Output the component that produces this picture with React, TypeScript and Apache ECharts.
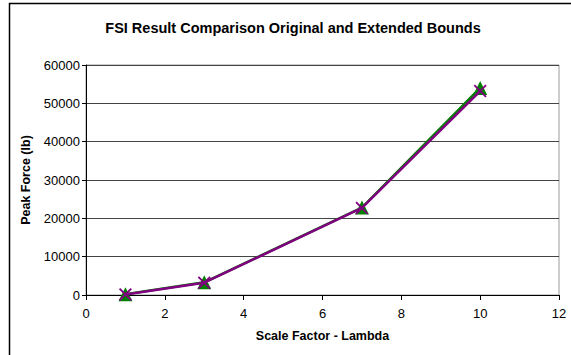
import React, { useEffect, useRef } from "react";
import * as echarts from "echarts";

// Scale factor (lambda) and peak force (lb) for both bound sets
const lambdaValues = [1, 3, 7, 10];
const originalBounds = [200, 3300, 22800, 54000];
const extendedBounds = [150, 3200, 22700, 53200];

const xTicks = { min: 0, max: 12, interval: 2 };
const yTicks = { min: 0, max: 60000, interval: 10000 };

const FONT = "'Liberation Sans', Arial, sans-serif";

// thin "X" marker outline as a filled polygon
const CROSS =
  "path://M0,1L1,0L5,4L9,0L10,1L6,5L10,9L9,10L5,6L1,10L0,9L4,5Z";

export default function App() {
  const ref = useRef<HTMLDivElement>(null);

  useEffect(() => {
    if (!ref.current) return;
    const chart = echarts.init(ref.current, null, { renderer: "svg" });

    const pairs = (ys: number[]) => lambdaValues.map((x, i) => [x, ys[i]]);

    chart.setOption({
      animation: false,
      backgroundColor: "#ffffff",
      textStyle: { fontFamily: FONT },
      title: {
        text: "FSI Result Comparison Original and Extended Bounds",
        left: 288,
        top: 15,
        textAlign: "center",
        textStyle: { fontSize: 14.5, fontWeight: "bold", color: "#000", fontFamily: FONT },
      },
      graphic: [
        {
          type: "polyline",
          shape: { points: [[9.5, 360], [9.5, 3.5], [575, 3.5]] },
          style: { stroke: "#000", lineWidth: 1.5, fill: "none" },
          silent: true,
        },
      ],
      grid: { left: 86, top: 65, right: 12, bottom: 60, show: true, borderColor: "#9a9a9a", borderWidth: 1 },
      xAxis: {
        type: "value",
        min: xTicks.min,
        max: xTicks.max,
        interval: xTicks.interval,
        name: "Scale Factor - Lambda",
        nameLocation: "middle",
        nameGap: 34,
        nameTextStyle: { fontSize: 12.5, fontWeight: "bold", color: "#000", fontFamily: FONT },
        axisLine: { show: true, onZero: false, lineStyle: { color: "#000", width: 1 } },
        axisTick: { show: true, length: 5, lineStyle: { color: "#000" } },
        axisLabel: { fontSize: 13, color: "#000", margin: 12, fontFamily: FONT },
        splitLine: { show: false },
      },
      yAxis: {
        type: "value",
        min: yTicks.min,
        max: yTicks.max,
        interval: yTicks.interval,
        name: "Peak Force (lb)",
        nameLocation: "middle",
        nameGap: 50,
        nameTextStyle: { fontSize: 12.5, fontWeight: "bold", color: "#000", fontFamily: FONT },
        axisLine: { show: true, lineStyle: { color: "#000", width: 1 } },
        axisTick: { show: true, length: 4, lineStyle: { color: "#000" } },
        axisLabel: {
          fontSize: 13,
          color: "#000",
          margin: 6,
          fontFamily: FONT,
          formatter: (v: number) => String(v),
        },
        splitLine: { show: true, lineStyle: { color: "#444", width: 1 } },
      },
      series: [
        {
          name: "Original",
          type: "line",
          data: pairs(originalBounds),
          symbol: "triangle",
          symbolSize: 14,
          lineStyle: { color: "#008000", width: 2.5 },
          itemStyle: { color: "#008000" },
          z: 2,
        },
        {
          name: "Extended",
          type: "line",
          data: pairs(extendedBounds),
          symbol: CROSS,
          symbolSize: 13,
          lineStyle: { color: "#800080", width: 2.5 },
          itemStyle: { color: "#800080" },
          z: 3,
        },
      ],
    });

    return () => chart.dispose();
  }, []);

  return (
    <div
      ref={ref}
      style={{ position: "absolute", left: 0, top: 0, width: 571, height: 355 }}
    />
  );
}
